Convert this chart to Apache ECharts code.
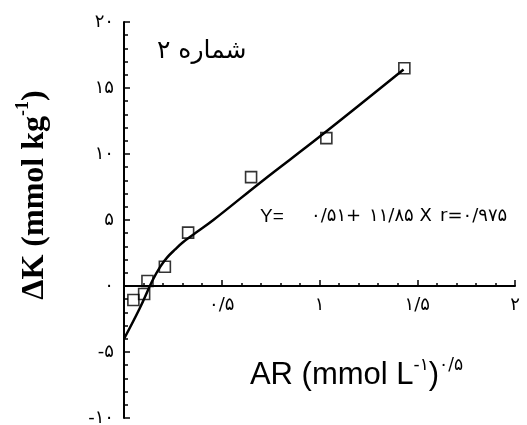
<!DOCTYPE html>
<html>
<head>
<meta charset="utf-8">
<script src="https://cdn.jsdelivr.net/npm/echarts@6/dist/echarts.min.js"></script>
<style>html,body{margin:0;padding:0;background:#fff}#c{width:527px;height:425px}</style>
</head>
<body>
<div id="c"></div>
<script>
// Measured points (squares)
var pointX = [0.048, 0.103, 0.12, 0.209, 0.328, 0.65, 1.035, 1.434];
var pointY = [-1.06, -0.61, 0.38, 1.46, 4.04, 8.25, 11.2, 16.5];
// Hand-drawn fitted curve
var curveX = [0, 0.08, 0.145, 0.185, 0.22, 0.26, 0.30, 0.35, 0.457, 0.711, 1.0, 1.43];
var curveY = [-4.0, -1.7, 0.4, 1.45, 2.15, 2.75, 3.3, 3.85, 5.0, 8.0, 11.3, 16.4];
// Tick labels
var yTickValues = [-10, -5, 0, 5, 10, 15, 20];
var yTickLabels = ['-۱۰', '-۵', '۰', '۵', '۱۰', '۱۵', '۲۰'];
var xTickValues = [0, 0.5, 1, 1.5, 2];
var xTickLabels = ['', '۰/۵', '۱', '۱/۵', '۲'];
var titleText = 'شماره ۲';
var eqParts = ['Y=', '۰/۵۱+', '۱۱/۸۵ X', 'r=۰/۹۷۵'];

function lookup(vals, labels, v) {
  for (var i = 0; i < vals.length; i++) if (Math.abs(vals[i] - v) < 1e-9) return labels[i];
  return '';
}
var pts = pointX.map(function (x, i) { return [x, pointY[i]]; });
var curve = curveX.map(function (x, i) { return [x, curveY[i]]; });

var chart = echarts.init(document.getElementById('c'), null, {renderer: 'canvas'});
chart.setOption({
  animation: false,
  backgroundColor: '#fff',
  title: {
    text: titleText, left: 152, top: 34,
    textStyle: {fontFamily: 'DejaVu Sans', fontSize: 25, fontWeight: 'normal', color: '#000'}
  },
  grid: {left: 124, right: 12, top: 22, bottom: 7, containLabel: false, outerBoundsMode: 'none'},
  xAxis: {
    type: 'value', min: 0, max: 2, interval: 0.5,
    offset: -132,
    axisLine: {onZero: false, lineStyle: {color: '#000', width: 2}},
    axisTick: {inside: true, length: 6, lineStyle: {color: '#000', width: 1.5}},
    minorTick: {show: true, splitNumber: 5, length: 3, lineStyle: {color: '#000', width: 1.5}},
    splitLine: {show: false},
    axisLabel: {
      margin: 10, color: '#000', fontFamily: 'DejaVu Sans', fontSize: 18,
      formatter: function (v) { return lookup(xTickValues, xTickLabels, v); }
    },
    name: '{n|AR (mmol L}{s|-۱}{n|)}{s|۰/۵}',
    nameLocation: 'middle', nameGap: 71,
    nameTextStyle: {
      padding: [0, 0, 0, 74],
      rich: {
        n: {fontFamily: 'Liberation Sans', fontSize: 31, lineHeight: 34, color: '#000', verticalAlign: 'bottom'},
        s: {fontFamily: 'DejaVu Sans', fontSize: 17, lineHeight: 19, color: '#000', verticalAlign: 'top'}
      }
    }
  },
  yAxis: {
    type: 'value', min: -10, max: 20, interval: 5,
    axisLine: {lineStyle: {color: '#000', width: 2}},
    axisTick: {inside: true, length: 6, lineStyle: {color: '#000', width: 1.5}},
    minorTick: {show: true, splitNumber: 5, length: 4, lineStyle: {color: '#000', width: 1.5}},
    splitLine: {show: false},
    axisLabel: {
      margin: 10, color: '#000', fontFamily: 'DejaVu Sans', fontSize: 18,
      padding: [0, 0, 8, 0],
      formatter: function (v) { return lookup(yTickValues, yTickLabels, v); }
    },
    name: '{n|ΔK (mmol kg}{s|-1}{n|)}',
    nameLocation: 'middle', nameGap: 73, nameRotate: 90,
    nameTextStyle: {
      padding: [0, 0, 0, 50],
      rich: {
        n: {fontFamily: 'Liberation Serif', fontWeight: 'bold', fontSize: 32, lineHeight: 37, color: '#000', verticalAlign: 'bottom'},
        s: {fontFamily: 'Liberation Serif', fontWeight: 'bold', fontSize: 18, lineHeight: 20, color: '#000', verticalAlign: 'top'}
      }
    }
  },
  graphic: [
    {type: 'text', left: 260, top: 207, style: {text: eqParts[0], font: '19px "Liberation Sans"', fill: '#000'}},
    {type: 'text', left: 311, top: 207, style: {text: eqParts[1], font: '18px "DejaVu Sans"', fill: '#000'}},
    {type: 'text', left: 369, top: 207, style: {text: eqParts[2], font: '18px "DejaVu Sans"', fill: '#000'}},
    {type: 'text', left: 440, top: 207, style: {text: eqParts[3], font: '18px "DejaVu Sans"', fill: '#000'}}
  ],
  series: [
    {
      type: 'line', data: curve, smooth: 0.4, symbol: 'none',
      lineStyle: {color: '#000', width: 2.5}, z: 2
    },
    {
      type: 'scatter', data: pts, symbol: 'rect', symbolSize: 11,
      itemStyle: {color: 'rgba(0,0,0,0)', borderColor: '#000', borderWidth: 1.6}, z: 3
    }
  ]
});
</script>
</body>
</html>
